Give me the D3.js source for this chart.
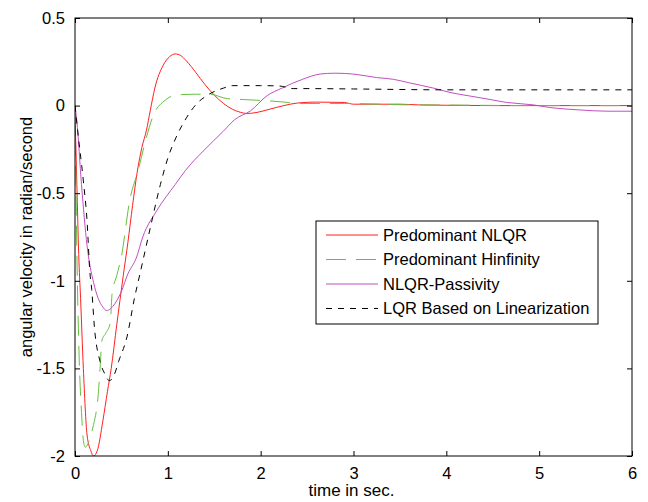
<!DOCTYPE html>
<html><head><meta charset="utf-8">
<script src="https://cdn.jsdelivr.net/npm/d3@7/dist/d3.min.js"></script>
<style>body{margin:0;background:#fff}svg{display:block}text{font-family:Arial,"Liberation Sans",sans-serif}</style>
</head><body>
<script>
const xTicks = [0,1,2,3,4,5,6];
const yTicks = [-2,-1.5,-1,-0.5,0,0.5];
const seriesNames = ["Predominant NLQR","Predominant Hinfinity","NLQR-Passivity","LQR Based on Linearization"];

const redT = [0,0.02,0.04,0.06,0.09,0.13,0.17,0.2,0.24,0.3,0.35,0.39,0.45,0.52,0.57,0.62,0.67,0.72,0.77,0.81,0.86,0.95,1.02,1.08,1.14,1.2,1.3,1.4,1.5,1.6,1.7,1.78,1.85,1.95,2.1,2.25,2.4,2.6,2.9,3.0,3.5,3.7,4.0,4.5,5.0,6.0];
const redV = [-0.05,-0.45,-0.85,-1.1,-1.5,-1.88,-1.97,-2.0,-1.97,-1.8,-1.63,-1.5,-1.25,-0.97,-0.78,-0.57,-0.38,-0.24,-0.14,-0.03,0.1,0.23,0.28,0.295,0.285,0.255,0.19,0.12,0.06,0.012,-0.022,-0.038,-0.045,-0.04,-0.02,0.0,0.015,0.02,0.018,0.008,0.008,0.004,0.002,0.0,0.0,0.0];

const greenT = [0,0.02,0.045,0.07,0.09,0.11,0.14,0.17,0.2,0.25,0.27,0.29,0.33,0.38,0.4,0.45,0.5,0.59,0.68,0.77,0.84,0.97,1.08,1.15,1.3,1.45,1.64,1.84,2.05,2.26,2.4,2.9,3.5,4.0,5.0,6.0];
const greenV = [0,-0.83,-1.44,-1.75,-1.91,-1.95,-1.93,-1.88,-1.82,-1.65,-1.5,-1.34,-1.3,-1.24,-1.07,-0.97,-0.86,-0.54,-0.37,-0.18,-0.06,0.03,0.06,0.063,0.065,0.065,0.04,0.034,0.028,0.02,0.012,0.012,0.005,0.003,0.0,0.0];

const magT = [0,0.02,0.07,0.13,0.2,0.25,0.3,0.34,0.43,0.5,0.57,0.66,0.73,0.88,1.08,1.19,1.38,1.6,1.72,1.89,2.07,2.23,2.45,2.64,2.8,3.0,3.25,3.43,3.6,3.86,4.04,4.25,4.47,4.65,4.94,5.1,5.3,5.44,5.74,6.0];
const magV = [0,-0.09,-0.45,-0.8,-1.01,-1.1,-1.15,-1.17,-1.13,-1.06,-0.96,-0.87,-0.75,-0.6,-0.45,-0.37,-0.26,-0.145,-0.08,-0.03,0.057,0.1,0.15,0.18,0.185,0.18,0.16,0.15,0.13,0.1,0.075,0.055,0.035,0.018,0.004,-0.01,-0.02,-0.025,-0.032,-0.032];

const blackT = [0,0.03,0.09,0.13,0.16,0.18,0.21,0.27,0.32,0.37,0.42,0.47,0.56,0.64,0.7,0.81,0.92,1.0,1.09,1.2,1.31,1.42,1.6,1.7,2.0,2.2,2.35,2.5,3.0,4.0,5.0,6.0];
const blackV = [0,-0.15,-0.43,-0.66,-0.95,-1.05,-1.27,-1.46,-1.53,-1.57,-1.54,-1.46,-1.32,-1.1,-0.96,-0.7,-0.45,-0.3,-0.18,-0.07,0.01,0.057,0.1,0.114,0.114,0.112,0.097,0.097,0.095,0.09,0.09,0.09];

const W = 648, H = 502;
const L = 75, R = 632, T = 18, B = 456;
const x = d3.scaleLinear().domain([0,6]).range([L,R]);
const y = d3.scaleLinear().domain([-2,0.5]).range([B,T]);

const svg = d3.select("body").append("svg").attr("width",W).attr("height",H);

svg.append("defs").append("clipPath").attr("id","clip")
  .append("rect").attr("x",L).attr("y",T).attr("width",R-L).attr("height",B-T);

const series = [
  {name:seriesNames[0], t:redT, v:redV, color:"#ff2020", dash:null},
  {name:seriesNames[1], t:greenT, v:greenV, color:"#66c040", dash:"20,10"},
  {name:seriesNames[2], t:magT, v:magV, color:"#c050c0", dash:null},
  {name:seriesNames[3], t:blackT, v:blackV, color:"#000000", dash:"6,6"}
];

const line = d3.line().x(d=>x(d[0])).y(d=>y(d[1])).curve(d3.curveMonotoneX);
const g = svg.append("g").attr("clip-path","url(#clip)");
series.forEach(s=>{
  g.append("path").datum(s.t.map((t,i)=>[t,s.v[i]]))
   .attr("d",line).attr("fill","none").attr("stroke",s.color)
   .attr("stroke-width",1).attr("stroke-dasharray",s.dash);
});

// axes
const tl = 5;
const axB = svg.append("g").attr("transform",`translate(0,${B})`)
  .call(d3.axisBottom(x).tickValues(xTicks).tickSize(-tl).tickPadding(tl+6).tickFormat(d3.format("d")));
const axT = svg.append("g").attr("transform",`translate(0,${T})`)
  .call(d3.axisTop(x).tickValues(xTicks).tickSize(-tl).tickFormat(""));
const axL = svg.append("g").attr("transform",`translate(${L},0)`)
  .call(d3.axisLeft(y).tickValues(yTicks).tickSize(-tl).tickPadding(tl+5).tickFormat(d=>String(d)));
const axR = svg.append("g").attr("transform",`translate(${R},0)`)
  .call(d3.axisRight(y).tickValues(yTicks).tickSize(-tl).tickFormat(""));
[axB,axT,axL,axR].forEach(a=>{
  a.select(".domain").remove();
  a.selectAll("line").attr("stroke","#000");
  a.selectAll("text").attr("font-size",16.5).attr("fill","#000").attr("font-family","Arial, 'Liberation Sans', sans-serif");
});
svg.append("rect").attr("x",L).attr("y",T).attr("width",R-L).attr("height",B-T)
  .attr("fill","none").attr("stroke","#000").attr("stroke-width",1);

svg.append("text").attr("x",(L+R)/2 - 2).attr("y",496).attr("text-anchor","middle")
  .attr("font-size",17).text("time in sec.");
svg.append("text").attr("transform",`translate(32,${(T+B)/2}) rotate(-90)`)
  .attr("text-anchor","middle").attr("font-size",16.5).text("angular velocity in radian/second");

// legend
const lg = svg.append("g");
lg.append("rect").attr("x",316).attr("y",221).attr("width",282).attr("height",103)
  .attr("fill","#fff").attr("stroke","#000").attr("stroke-width",1);
series.forEach((s,i)=>{
  const yy = 235 + i*24.5;
  lg.append("line").attr("x1",326).attr("x2",378).attr("y1",yy).attr("y2",yy)
    .attr("stroke",s.color).attr("stroke-width",1).attr("stroke-dasharray",s.dash);
  lg.append("text").attr("x",383).attr("y",yy+5.5).attr("font-size",16.5).text(s.name);
});
</script>
</body></html>
